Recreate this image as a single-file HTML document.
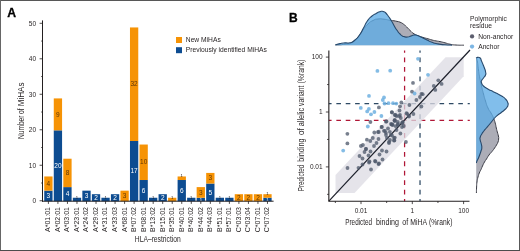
<!DOCTYPE html>
<html lang="en">
<head>
<meta charset="utf-8">
<title>MiHA figure</title>
<style>
html,body{margin:0;padding:0;background:#fff;}
body{width:520px;height:251px;overflow:hidden;}
svg{display:block;font-family:"Liberation Sans",sans-serif;}
</style>
</head>
<body>
<svg width="520" height="251" viewBox="0 0 520 251">
<rect width="520" height="251" fill="#fff"/>
<g id="panelA">
<rect x="44.25" y="190.66" width="8.3" height="10.64" fill="#0d4c91"/>
<rect x="44.25" y="176.46" width="8.3" height="14.19" fill="#f69305"/>
<rect x="53.77" y="130.34" width="8.3" height="70.96" fill="#0d4c91"/>
<rect x="53.77" y="98.41" width="8.3" height="31.93" fill="#f69305"/>
<rect x="63.30" y="187.11" width="8.3" height="14.19" fill="#0d4c91"/>
<rect x="63.30" y="158.72" width="8.3" height="28.38" fill="#f69305"/>
<rect x="72.82" y="197.75" width="8.3" height="3.55" fill="#0d4c91"/>
<rect x="82.35" y="190.66" width="8.3" height="10.64" fill="#0d4c91"/>
<rect x="91.88" y="194.20" width="8.3" height="7.10" fill="#0d4c91"/>
<rect x="101.40" y="197.75" width="8.3" height="3.55" fill="#0d4c91"/>
<rect x="110.92" y="194.20" width="8.3" height="7.10" fill="#0d4c91"/>
<rect x="120.45" y="190.66" width="8.3" height="10.64" fill="#f69305"/>
<rect x="129.97" y="140.98" width="8.3" height="60.32" fill="#0d4c91"/>
<rect x="129.97" y="27.45" width="8.3" height="113.54" fill="#f69305"/>
<rect x="139.50" y="180.01" width="8.3" height="21.29" fill="#0d4c91"/>
<rect x="139.50" y="144.53" width="8.3" height="35.48" fill="#f69305"/>
<rect x="149.03" y="197.75" width="8.3" height="3.55" fill="#0d4c91"/>
<rect x="158.55" y="194.20" width="8.3" height="7.10" fill="#0d4c91"/>
<rect x="168.07" y="197.75" width="8.3" height="3.55" fill="#f69305"/>
<rect x="177.60" y="180.01" width="8.3" height="21.29" fill="#0d4c91"/>
<rect x="177.60" y="176.46" width="8.3" height="3.55" fill="#f69305"/>
<rect x="187.12" y="197.75" width="8.3" height="3.55" fill="#0d4c91"/>
<rect x="196.65" y="197.75" width="8.3" height="3.55" fill="#0d4c91"/>
<rect x="196.65" y="187.11" width="8.3" height="10.64" fill="#f69305"/>
<rect x="206.18" y="183.56" width="8.3" height="17.74" fill="#0d4c91"/>
<rect x="206.18" y="172.92" width="8.3" height="10.64" fill="#f69305"/>
<rect x="215.70" y="197.75" width="8.3" height="3.55" fill="#0d4c91"/>
<rect x="225.22" y="197.75" width="8.3" height="3.55" fill="#0d4c91"/>
<rect x="234.75" y="194.20" width="8.3" height="7.10" fill="#f69305"/>
<rect x="244.28" y="194.20" width="8.3" height="7.10" fill="#f69305"/>
<rect x="253.80" y="194.20" width="8.3" height="7.10" fill="#f69305"/>
<rect x="263.33" y="197.75" width="8.3" height="3.55" fill="#0d4c91"/>
<rect x="263.33" y="194.20" width="8.3" height="3.55" fill="#f69305"/>
<g font-size="6.5" text-anchor="middle">
<text x="48.40" y="198.08" fill="#fff">3</text>
<text x="48.40" y="185.76" fill="#5e3608">4</text>
<text x="57.92" y="167.92" fill="#fff">20</text>
<text x="57.92" y="116.57" fill="#5e3608">9</text>
<text x="67.45" y="196.30" fill="#fff">4</text>
<text x="67.45" y="175.12" fill="#5e3608">8</text>
<text x="76.97" y="198.75" fill="#231f20" font-size="4.2">1</text>
<text x="86.50" y="198.08" fill="#fff">3</text>
<text x="96.03" y="199.85" fill="#fff">2</text>
<text x="105.55" y="198.75" fill="#231f20" font-size="4.2">1</text>
<text x="115.07" y="199.85" fill="#fff">2</text>
<text x="124.60" y="198.18" fill="#5e3608">3</text>
<text x="134.12" y="173.24" fill="#fff">17</text>
<text x="134.12" y="86.42" fill="#5e3608">32</text>
<text x="143.65" y="192.76" fill="#fff">6</text>
<text x="143.65" y="164.47" fill="#5e3608">10</text>
<text x="153.18" y="198.75" fill="#231f20" font-size="4.2">1</text>
<text x="162.70" y="199.85" fill="#fff">2</text>
<text x="172.22" y="198.75" fill="#231f20" font-size="4.2">1</text>
<text x="181.75" y="192.76" fill="#fff">6</text>
<text x="181.75" y="177.46" fill="#231f20" font-size="4.2">1</text>
<text x="191.28" y="198.75" fill="#231f20" font-size="4.2">1</text>
<text x="200.80" y="201.03" fill="#fff" font-size="4.2">1</text>
<text x="200.80" y="194.63" fill="#5e3608">3</text>
<text x="210.33" y="194.53" fill="#fff">5</text>
<text x="210.33" y="180.44" fill="#5e3608">3</text>
<text x="219.85" y="198.75" fill="#231f20" font-size="4.2">1</text>
<text x="229.38" y="198.75" fill="#231f20" font-size="4.2">1</text>
<text x="238.90" y="199.95" fill="#5e3608">2</text>
<text x="248.43" y="199.95" fill="#5e3608">2</text>
<text x="257.95" y="199.95" fill="#5e3608">2</text>
<text x="267.48" y="201.03" fill="#fff" font-size="4.2">1</text>
<text x="267.48" y="195.20" fill="#231f20" font-size="4.2">1</text>
</g>
<path d="M42.5 20.4V201.70000000000002" stroke="#231f20" stroke-width="1" fill="none"/>
<path d="M42.0 201.20000000000002H273.6" stroke="#231f20" stroke-width="1" fill="none"/>
<path d="M39.6 200.75H42.2M41.2 183.00H42.2M39.6 165.26H42.2M41.2 147.51H42.2M39.6 129.77H42.2M41.2 112.03H42.2M39.6 94.28H42.2M41.2 76.53H42.2M39.6 58.79H42.2M41.2 41.05H42.2M39.6 23.30H42.2M48.40 201.20000000000002V203.9M57.92 201.20000000000002V203.9M67.45 201.20000000000002V203.9M76.97 201.20000000000002V203.9M86.50 201.20000000000002V203.9M96.03 201.20000000000002V203.9M105.55 201.20000000000002V203.9M115.07 201.20000000000002V203.9M124.60 201.20000000000002V203.9M134.12 201.20000000000002V203.9M143.65 201.20000000000002V203.9M153.18 201.20000000000002V203.9M162.70 201.20000000000002V203.9M172.22 201.20000000000002V203.9M181.75 201.20000000000002V203.9M191.28 201.20000000000002V203.9M200.80 201.20000000000002V203.9M210.33 201.20000000000002V203.9M219.85 201.20000000000002V203.9M229.38 201.20000000000002V203.9M238.90 201.20000000000002V203.9M248.43 201.20000000000002V203.9M257.95 201.20000000000002V203.9M267.48 201.20000000000002V203.9" stroke="#231f20" stroke-width="0.8" fill="none"/>
<g font-size="6.5" text-anchor="end" fill="#231f20">
<text x="36.1" y="203.05">0</text>
<text x="36.1" y="167.56">10</text>
<text x="36.1" y="132.07">20</text>
<text x="36.1" y="96.58">30</text>
<text x="36.1" y="61.09">40</text>
<text x="36.1" y="25.60">50</text>
</g>
<g font-size="7" text-anchor="end" fill="#231f20">
<text transform="translate(50.30 207) rotate(-90)">A*01:01</text>
<text transform="translate(59.82 207) rotate(-90)">A*02:01</text>
<text transform="translate(69.35 207) rotate(-90)">A*03:01</text>
<text transform="translate(78.88 207) rotate(-90)">A*23:01</text>
<text transform="translate(88.40 207) rotate(-90)">A*24:02</text>
<text transform="translate(97.93 207) rotate(-90)">A*29:02</text>
<text transform="translate(107.45 207) rotate(-90)">A*31:01</text>
<text transform="translate(116.97 207) rotate(-90)">A*33:03</text>
<text transform="translate(126.50 207) rotate(-90)">A*68:01</text>
<text transform="translate(136.03 207) rotate(-90)">B*07:02</text>
<text transform="translate(145.55 207) rotate(-90)">B*08:01</text>
<text transform="translate(155.08 207) rotate(-90)">B*13:02</text>
<text transform="translate(164.60 207) rotate(-90)">B*15:01</text>
<text transform="translate(174.12 207) rotate(-90)">B*35:01</text>
<text transform="translate(183.65 207) rotate(-90)">B*40:01</text>
<text transform="translate(193.18 207) rotate(-90)">B*40:02</text>
<text transform="translate(202.70 207) rotate(-90)">B*44:02</text>
<text transform="translate(212.23 207) rotate(-90)">B*44:03</text>
<text transform="translate(221.75 207) rotate(-90)">B*51:01</text>
<text transform="translate(231.28 207) rotate(-90)">B*57:01</text>
<text transform="translate(240.80 207) rotate(-90)">C*03:03</text>
<text transform="translate(250.33 207) rotate(-90)">C*03:04</text>
<text transform="translate(259.85 207) rotate(-90)">C*07:01</text>
<text transform="translate(269.38 207) rotate(-90)">C*07:02</text>
</g>
<text transform="translate(23.8 139.00) rotate(-90)" font-size="8.8" fill="#231f20" textLength="23.50" lengthAdjust="spacingAndGlyphs">Number</text><text transform="translate(23.8 113.90) rotate(-90)" font-size="8.8" fill="#231f20" textLength="5.50" lengthAdjust="spacingAndGlyphs">of</text><text transform="translate(23.8 106.20) rotate(-90)" font-size="8.8" fill="#231f20" textLength="23.60" lengthAdjust="spacingAndGlyphs">MiHAs</text>
<text transform="translate(157.8 241.9) scale(0.775 1)" font-size="8.7" text-anchor="middle" fill="#231f20">HLA–restriction</text>
<rect x="176" y="37" width="6" height="6" fill="#f69305"/>
<rect x="176" y="47.2" width="6" height="6" fill="#0d4c91"/>
<text x="185.8" y="42" font-size="6.7" fill="#231f20">New MiHAs</text>
<text x="185.8" y="52.2" font-size="6.7" fill="#231f20">Previously identified MiHAs</text>
<text x="7.3" y="17.1" font-size="12.2" font-weight="bold" fill="#000" stroke="#000" stroke-width="0.3">A</text>
</g>
<g id="panelB">
<g fill="none" stroke-width="1.25">
<path d="M404.58 201.2V50.4" stroke="#b01636" stroke-dasharray="4.8 4.64" stroke-dashoffset="2.7"/>
<path d="M420.02 201.2V50.4" stroke="#2e4a64" stroke-dasharray="4.8 4.64" stroke-dashoffset="2.7"/>
<path d="M328.85 120.26H469.8" stroke="#b01636" stroke-dasharray="4.6 4.78" stroke-dashoffset="1.88"/>
<path d="M328.85 103.74H469.8" stroke="#2e4a64" stroke-dasharray="4.6 4.78" stroke-dashoffset="1.88"/>
</g>
<polygon points="335.50,174.97 445.55,57.20 463.70,57.20 463.70,76.21 354.57,193.00 335.50,193.00" fill="#dddce3" fill-opacity="0.76"/>
<path d="M328.85 201.2L470 50" stroke="#1c1f2a" stroke-width="1.2" fill="none"/>
<g fill="#4d586b" fill-opacity="0.76">
<circle cx="413" cy="82.9" r="1.9"/>
<circle cx="438.3" cy="80.3" r="1.9"/>
<circle cx="441.6" cy="83.9" r="1.9"/>
<circle cx="433.8" cy="85.9" r="1.9"/>
<circle cx="435.3" cy="89.9" r="1.9"/>
<circle cx="412" cy="91.7" r="1.9"/>
<circle cx="421.4" cy="93.9" r="1.9"/>
<circle cx="416.4" cy="100" r="1.9"/>
<circle cx="419.9" cy="97" r="1.9"/>
<circle cx="401.3" cy="102.5" r="1.9"/>
<circle cx="400" cy="106.3" r="1.9"/>
<circle cx="399.5" cy="110.5" r="1.9"/>
<circle cx="409.4" cy="105" r="1.9"/>
<circle cx="421.4" cy="106.5" r="1.9"/>
<circle cx="406.5" cy="113.2" r="1.9"/>
<circle cx="413.4" cy="114" r="1.9"/>
<circle cx="400" cy="115" r="1.9"/>
<circle cx="396.5" cy="116" r="1.9"/>
<circle cx="409" cy="116.5" r="1.9"/>
<circle cx="378.9" cy="107.4" r="1.9"/>
<circle cx="391.8" cy="112.1" r="1.9"/>
<circle cx="394.8" cy="115" r="1.9"/>
<circle cx="394.8" cy="120" r="1.9"/>
<circle cx="391.8" cy="124.4" r="1.9"/>
<circle cx="397.8" cy="125" r="1.9"/>
<circle cx="370.4" cy="122" r="1.9"/>
<circle cx="385.9" cy="121.5" r="1.9"/>
<circle cx="381.9" cy="126.9" r="1.9"/>
<circle cx="386.5" cy="121.5" r="1.9"/>
<circle cx="392" cy="124.5" r="1.9"/>
<circle cx="381.5" cy="127" r="1.9"/>
<circle cx="398" cy="124" r="1.9"/>
<circle cx="402.4" cy="123" r="1.9"/>
<circle cx="402" cy="127" r="1.9"/>
<circle cx="378" cy="132" r="1.9"/>
<circle cx="385" cy="131" r="1.9"/>
<circle cx="386" cy="135" r="1.9"/>
<circle cx="400.4" cy="133.5" r="1.9"/>
<circle cx="394" cy="138" r="1.9"/>
<circle cx="394.4" cy="140.4" r="1.9"/>
<circle cx="378.5" cy="139" r="1.9"/>
<circle cx="390" cy="140" r="1.9"/>
<circle cx="389" cy="143" r="1.9"/>
<circle cx="405.9" cy="142" r="1.9"/>
<circle cx="347.4" cy="133.8" r="1.9"/>
<circle cx="347.4" cy="143.4" r="1.9"/>
<circle cx="374.3" cy="132.5" r="1.9"/>
<circle cx="378.8" cy="132" r="1.9"/>
<circle cx="372.8" cy="138" r="1.9"/>
<circle cx="366.9" cy="139.7" r="1.9"/>
<circle cx="370.3" cy="141" r="1.9"/>
<circle cx="360.9" cy="146" r="1.9"/>
<circle cx="362.9" cy="145" r="1.9"/>
<circle cx="365.9" cy="149" r="1.9"/>
<circle cx="366" cy="149" r="1.9"/>
<circle cx="364.5" cy="152" r="1.9"/>
<circle cx="370.5" cy="151.5" r="1.9"/>
<circle cx="374" cy="146" r="1.9"/>
<circle cx="376.5" cy="143" r="1.9"/>
<circle cx="368.5" cy="155.5" r="1.9"/>
<circle cx="359.5" cy="156" r="1.9"/>
<circle cx="362.5" cy="158.5" r="1.9"/>
<circle cx="382" cy="150.5" r="1.9"/>
<circle cx="386.5" cy="151.5" r="1.9"/>
<circle cx="379.5" cy="154.5" r="1.9"/>
<circle cx="382.5" cy="159.5" r="1.9"/>
<circle cx="375" cy="161" r="1.9"/>
<circle cx="379" cy="163.5" r="1.9"/>
<circle cx="369" cy="162.5" r="1.9"/>
<circle cx="389" cy="142" r="1.9"/>
<circle cx="394" cy="140.5" r="1.9"/>
<circle cx="347.5" cy="168" r="1.9"/>
<circle cx="358.5" cy="167.8" r="1.9"/>
<circle cx="369.5" cy="161.5" r="1.9"/>
<circle cx="371" cy="169.5" r="1.9"/>
<circle cx="375.5" cy="161.5" r="1.9"/>
<circle cx="378.5" cy="164" r="1.9"/>
<circle cx="362.5" cy="164.5" r="1.9"/>
<circle cx="394.5" cy="120.5" r="1.9"/>
<circle cx="391" cy="124" r="1.9"/>
<circle cx="402" cy="123" r="1.9"/>
<circle cx="392" cy="112.5" r="1.9"/>
<circle cx="395.5" cy="115" r="1.9"/>
<circle cx="407.2" cy="113.9" r="1.9"/>
<circle cx="408.8" cy="115.8" r="1.9"/>
<circle cx="399.2" cy="116.2" r="1.9"/>
<circle cx="400.8" cy="118" r="1.9"/>
<circle cx="394.8" cy="121" r="1.9"/>
<circle cx="397.8" cy="122" r="1.9"/>
<circle cx="402.8" cy="122" r="1.9"/>
<circle cx="403.8" cy="126" r="1.9"/>
<circle cx="392.8" cy="125" r="1.9"/>
<circle cx="395.8" cy="126.2" r="1.9"/>
<circle cx="383.9" cy="130.8" r="1.9"/>
<circle cx="385.9" cy="132.8" r="1.9"/>
<circle cx="389.9" cy="131.8" r="1.9"/>
<circle cx="390.9" cy="134.8" r="1.9"/>
<circle cx="386.9" cy="137.8" r="1.9"/>
<circle cx="394.8" cy="137.6" r="1.9"/>
<circle cx="422.7" cy="94.2" r="1.9"/>
<circle cx="388" cy="128.5" r="1.9"/>
<circle cx="396.5" cy="130" r="1.9"/>
<circle cx="392" cy="135.5" r="1.9"/>
</g>
<g fill="#6fb0e0" fill-opacity="0.85">
<circle cx="377.4" cy="70.9" r="1.9"/>
<circle cx="390.2" cy="70.7" r="1.9"/>
<circle cx="418" cy="58.8" r="1.9"/>
<circle cx="428" cy="74.8" r="1.9"/>
<circle cx="369" cy="95.9" r="1.9"/>
<circle cx="384" cy="97.4" r="1.9"/>
<circle cx="382.8" cy="100" r="1.9"/>
<circle cx="384.5" cy="103.5" r="1.9"/>
<circle cx="388.5" cy="103.2" r="1.9"/>
<circle cx="393" cy="103.2" r="1.9"/>
<circle cx="396.3" cy="103.6" r="1.9"/>
<circle cx="360.8" cy="107.9" r="1.9"/>
<circle cx="368.9" cy="108.9" r="1.9"/>
<circle cx="367.2" cy="111.4" r="1.9"/>
<circle cx="374.4" cy="112" r="1.9"/>
<circle cx="371" cy="114.3" r="1.9"/>
<circle cx="381.4" cy="116" r="1.9"/>
<circle cx="367.8" cy="126.5" r="1.9"/>
<circle cx="343.2" cy="150.6" r="1.9"/>
<circle cx="414.6" cy="93.5" r="1.9"/>
</g>
<path d="M328.85 50.4V201.2H469.5" stroke="#231f20" stroke-width="1.1" fill="none"/>
<path d="M335.35 201.2V203.0M327.05 194.35H328.85M361.00 201.2V204.1M325.85 166.90H328.85M386.65 201.2V203.0M327.05 139.45H328.85M412.30 201.2V204.1M325.85 112.00H328.85M437.95 201.2V203.0M327.05 84.55H328.85M463.60 201.2V204.1M325.85 57.10H328.85" stroke="#231f20" stroke-width="0.8" fill="none"/>
<g font-size="6.5" fill="#231f20">
<text x="361.00" y="213" text-anchor="middle">0.01</text>
<text x="322.6" y="168.70" text-anchor="end">0.01</text>
<text x="412.30" y="213" text-anchor="middle">1</text>
<text x="322.6" y="113.80" text-anchor="end">1</text>
<text x="463.60" y="213" text-anchor="middle">100</text>
<text x="322.6" y="58.90" text-anchor="end">100</text>
</g>
<text x="345.30" y="225" font-size="8.7" fill="#231f20" textLength="26.70" lengthAdjust="spacingAndGlyphs">Predicted</text><text x="376.00" y="225" font-size="8.7" fill="#231f20" textLength="22.90" lengthAdjust="spacingAndGlyphs">binding</text><text x="402.30" y="225" font-size="8.7" fill="#231f20" textLength="5.90" lengthAdjust="spacingAndGlyphs">of</text><text x="410.20" y="225" font-size="8.7" fill="#231f20" textLength="16.80" lengthAdjust="spacingAndGlyphs">MiHA</text><text x="428.90" y="225" font-size="8.7" fill="#231f20" textLength="23.50" lengthAdjust="spacingAndGlyphs">(%rank)</text>
<text transform="translate(303.7 191.20) rotate(-90)" font-size="8.7" fill="#231f20" textLength="26.40" lengthAdjust="spacingAndGlyphs">Predicted</text><text transform="translate(303.7 161.80) rotate(-90)" font-size="8.7" fill="#231f20" textLength="23.30" lengthAdjust="spacingAndGlyphs">binding</text><text transform="translate(303.7 134.90) rotate(-90)" font-size="8.7" fill="#231f20" textLength="6.70" lengthAdjust="spacingAndGlyphs">of</text><text transform="translate(303.7 126.30) rotate(-90)" font-size="8.7" fill="#231f20" textLength="18.40" lengthAdjust="spacingAndGlyphs">allelic</text><text transform="translate(303.7 105.90) rotate(-90)" font-size="8.7" fill="#231f20" textLength="20.20" lengthAdjust="spacingAndGlyphs">variant</text><text transform="translate(303.7 83.50) rotate(-90)" font-size="8.7" fill="#231f20" textLength="24.00" lengthAdjust="spacingAndGlyphs">(%rank)</text>
<text x="289" y="21.6" font-size="12" font-weight="bold" fill="#000" stroke="#000" stroke-width="0.3">B</text>
<g font-size="6.7" fill="#231f20">
<text x="470" y="20.6">Polymorphic</text>
<text x="470" y="28.4">residue</text>
<text x="478.2" y="38.7">Non-anchor</text>
<text x="478.2" y="48.9">Anchor</text>
</g>
<circle cx="472.05" cy="36.4" r="2.15" fill="#5c5e6e"/>
<circle cx="472.05" cy="46.6" r="2.15" fill="#7db6e4"/>
<path d="M335.40 44.90C338.60 44.67 339.47 45.00 345.00 44.20C350.53 43.40 347.67 44.90 352.00 42.50C356.33 40.10 354.33 41.17 358.00 37.00C361.67 32.83 359.67 34.33 363.00 30.00C366.33 25.67 364.67 27.17 368.00 24.00C371.33 20.83 369.67 22.17 373.00 20.50C376.33 18.83 374.33 19.43 378.00 19.00C381.67 18.57 380.00 18.77 384.00 19.20C388.00 19.63 386.67 19.77 390.00 20.30C393.33 20.83 391.67 20.43 394.00 20.80C396.33 21.17 395.00 20.93 397.00 21.40C399.00 21.87 397.90 21.33 400.00 22.20C402.10 23.07 401.13 22.47 403.30 24.00C405.47 25.53 404.27 24.67 406.50 26.80C408.73 28.93 407.50 28.07 410.00 30.40C412.50 32.73 411.33 32.00 414.00 33.80C416.67 35.60 415.00 34.60 418.00 35.80C421.00 37.00 419.67 36.40 423.00 37.40C426.33 38.40 425.00 37.93 428.00 38.80C431.00 39.67 429.33 39.30 432.00 40.00C434.67 40.70 433.33 40.37 436.00 40.90C438.67 41.43 437.00 40.97 440.00 41.60C443.00 42.23 441.67 41.93 445.00 42.80C448.33 43.67 446.33 43.47 450.00 44.20C453.67 44.93 451.33 44.67 456.00 45.00C460.67 45.33 461.33 45.13 464.00 45.20L464 45.2L335.4 45.2Z" fill="#acadb7"/>
<path d="M335.40 44.90C338.60 44.67 339.47 45.00 345.00 44.20C350.53 43.40 347.67 44.90 352.00 42.50C356.33 40.10 354.33 41.17 358.00 37.00C361.67 32.83 359.67 34.33 363.00 30.00C366.33 25.67 364.67 27.17 368.00 24.00C371.33 20.83 369.67 22.17 373.00 20.50C376.33 18.83 374.33 19.43 378.00 19.00C381.67 18.57 380.00 18.77 384.00 19.20C388.00 19.63 386.67 19.77 390.00 20.30C393.33 20.83 391.67 20.43 394.00 20.80C396.33 21.17 395.00 20.93 397.00 21.40C399.00 21.87 397.90 21.33 400.00 22.20C402.10 23.07 401.13 22.47 403.30 24.00C405.47 25.53 404.27 24.67 406.50 26.80C408.73 28.93 407.50 28.07 410.00 30.40C412.50 32.73 411.33 32.00 414.00 33.80C416.67 35.60 415.00 34.60 418.00 35.80C421.00 37.00 419.67 36.40 423.00 37.40C426.33 38.40 425.00 37.93 428.00 38.80C431.00 39.67 429.33 39.30 432.00 40.00C434.67 40.70 433.33 40.37 436.00 40.90C438.67 41.43 437.00 40.97 440.00 41.60C443.00 42.23 441.67 41.93 445.00 42.80C448.33 43.67 446.33 43.47 450.00 44.20C453.67 44.93 451.33 44.67 456.00 45.00C460.67 45.33 461.33 45.13 464.00 45.20" fill="none" stroke="#3c3d47" stroke-width="1"/>
<path d="M335.40 44.80C336.93 44.40 336.80 44.23 340.00 43.60C343.20 42.97 341.67 43.17 345.00 42.90C348.33 42.63 346.67 43.77 350.00 42.80C353.33 41.83 351.83 42.60 355.00 40.00C358.17 37.40 356.67 39.00 359.50 35.00C362.33 31.00 360.83 32.77 363.50 28.00C366.17 23.23 364.67 24.70 367.50 20.70C370.33 16.70 369.10 18.43 372.00 16.00C374.90 13.57 373.70 14.80 376.20 13.40C378.70 12.00 377.63 12.50 379.50 11.80C381.37 11.10 380.30 11.30 381.80 11.30C383.30 11.30 382.67 11.23 384.00 11.80C385.33 12.37 384.30 11.43 385.80 13.00C387.30 14.57 386.63 13.93 388.50 16.50C390.37 19.07 389.57 17.70 391.40 20.70C393.23 23.70 392.13 22.30 394.00 25.50C395.87 28.70 395.00 27.47 397.00 30.30C399.00 33.13 397.90 31.97 400.00 34.00C402.10 36.03 400.80 35.40 403.30 36.40C405.80 37.40 404.93 37.13 407.50 37.00C410.07 36.87 408.83 36.67 411.00 36.00C413.17 35.33 411.83 35.17 414.00 35.00C416.17 34.83 414.83 34.67 417.50 35.50C420.17 36.33 418.83 36.00 422.00 37.50C425.17 39.00 423.67 38.40 427.00 40.00C430.33 41.60 428.33 41.00 432.00 42.30C435.67 43.60 433.67 43.07 438.00 43.90C442.33 44.73 440.33 44.40 445.00 44.80C449.67 45.20 449.67 45.00 452.00 45.10L452 45.2L335.4 45.2Z" fill="#5eace6" fill-opacity="0.78"/>
<path d="M335.40 44.80C336.93 44.40 336.80 44.23 340.00 43.60C343.20 42.97 341.67 43.17 345.00 42.90C348.33 42.63 346.67 43.77 350.00 42.80C353.33 41.83 351.83 42.60 355.00 40.00C358.17 37.40 356.67 39.00 359.50 35.00C362.33 31.00 360.83 32.77 363.50 28.00C366.17 23.23 364.67 24.70 367.50 20.70C370.33 16.70 369.10 18.43 372.00 16.00C374.90 13.57 373.70 14.80 376.20 13.40C378.70 12.00 377.63 12.50 379.50 11.80C381.37 11.10 380.30 11.30 381.80 11.30C383.30 11.30 382.67 11.23 384.00 11.80C385.33 12.37 384.30 11.43 385.80 13.00C387.30 14.57 386.63 13.93 388.50 16.50C390.37 19.07 389.57 17.70 391.40 20.70C393.23 23.70 392.13 22.30 394.00 25.50C395.87 28.70 395.00 27.47 397.00 30.30C399.00 33.13 397.90 31.97 400.00 34.00C402.10 36.03 400.80 35.40 403.30 36.40C405.80 37.40 404.93 37.13 407.50 37.00C410.07 36.87 408.83 36.67 411.00 36.00C413.17 35.33 411.83 35.17 414.00 35.00C416.17 34.83 414.83 34.67 417.50 35.50C420.17 36.33 418.83 36.00 422.00 37.50C425.17 39.00 423.67 38.40 427.00 40.00C430.33 41.60 428.33 41.00 432.00 42.30C435.67 43.60 433.67 43.07 438.00 43.90C442.33 44.73 440.33 44.40 445.00 44.80C449.67 45.20 449.67 45.00 452.00 45.10" fill="none" stroke="#27496c" stroke-width="1.1"/>
<path d="M476.40 57.60C476.77 59.07 476.80 57.87 477.50 62.00C478.20 66.13 477.73 64.67 478.50 70.00C479.27 75.33 478.80 72.67 479.80 78.00C480.80 83.33 480.27 80.67 481.50 86.00C482.73 91.33 482.17 89.00 483.50 94.00C484.83 99.00 484.00 96.33 485.50 101.00C487.00 105.67 486.17 104.00 488.00 108.00C489.83 112.00 489.17 109.67 491.00 113.00C492.83 116.33 492.10 114.67 493.50 118.00C494.90 121.33 494.27 119.67 495.20 123.00C496.13 126.33 495.60 125.00 496.30 128.00C497.00 131.00 496.60 129.33 497.30 132.00C498.00 134.67 497.97 133.67 498.40 136.00C498.83 138.33 498.73 137.00 498.60 139.00C498.47 141.00 498.70 140.00 498.00 142.00C497.30 144.00 497.63 143.00 496.50 145.00C495.37 147.00 496.10 145.83 494.60 148.00C493.10 150.17 493.87 149.17 492.00 151.50C490.13 153.83 490.83 152.50 489.00 155.00C487.17 157.50 488.00 156.67 486.50 159.00C485.00 161.33 485.83 159.67 484.50 162.00C483.17 164.33 483.67 163.50 482.50 166.00C481.33 168.50 482.07 167.17 481.00 169.50C479.93 171.83 480.30 170.50 479.30 173.00C478.30 175.50 478.77 174.00 478.00 177.00C477.23 180.00 477.47 178.67 477.00 182.00C476.53 185.33 476.80 183.33 476.60 187.00C476.40 190.67 476.47 191.00 476.40 193.00L476.2 193L476.2 57.6Z" fill="#acadb7"/>
<path d="M476.40 57.60C476.77 59.07 476.80 57.87 477.50 62.00C478.20 66.13 477.73 64.67 478.50 70.00C479.27 75.33 478.80 72.67 479.80 78.00C480.80 83.33 480.27 80.67 481.50 86.00C482.73 91.33 482.17 89.00 483.50 94.00C484.83 99.00 484.00 96.33 485.50 101.00C487.00 105.67 486.17 104.00 488.00 108.00C489.83 112.00 489.17 109.67 491.00 113.00C492.83 116.33 492.10 114.67 493.50 118.00C494.90 121.33 494.27 119.67 495.20 123.00C496.13 126.33 495.60 125.00 496.30 128.00C497.00 131.00 496.60 129.33 497.30 132.00C498.00 134.67 497.97 133.67 498.40 136.00C498.83 138.33 498.73 137.00 498.60 139.00C498.47 141.00 498.70 140.00 498.00 142.00C497.30 144.00 497.63 143.00 496.50 145.00C495.37 147.00 496.10 145.83 494.60 148.00C493.10 150.17 493.87 149.17 492.00 151.50C490.13 153.83 490.83 152.50 489.00 155.00C487.17 157.50 488.00 156.67 486.50 159.00C485.00 161.33 485.83 159.67 484.50 162.00C483.17 164.33 483.67 163.50 482.50 166.00C481.33 168.50 482.07 167.17 481.00 169.50C479.93 171.83 480.30 170.50 479.30 173.00C478.30 175.50 478.77 174.00 478.00 177.00C477.23 180.00 477.47 178.67 477.00 182.00C476.53 185.33 476.80 183.33 476.60 187.00C476.40 190.67 476.47 191.00 476.40 193.00" fill="none" stroke="#3c3d47" stroke-width="1"/>
<path d="M476.30 57.60C477.47 57.63 478.07 56.57 479.80 57.70C481.53 58.83 480.37 58.57 481.50 61.00C482.63 63.43 482.23 62.67 483.20 65.00C484.17 67.33 483.60 65.67 484.40 68.00C485.20 70.33 485.23 69.67 485.60 72.00C485.97 74.33 486.20 73.00 485.50 75.00C484.80 77.00 484.80 76.13 483.50 78.00C482.20 79.87 482.23 78.93 481.60 80.60C480.97 82.27 480.97 81.20 481.60 83.00C482.23 84.80 481.70 84.17 483.50 86.00C485.30 87.83 484.50 86.97 487.00 88.50C489.50 90.03 488.00 89.10 491.00 90.60C494.00 92.10 492.47 91.20 496.00 93.00C499.53 94.80 498.43 94.00 501.60 96.00C504.77 98.00 503.47 96.83 505.50 99.00C507.53 101.17 506.87 100.50 507.70 102.50C508.53 104.50 508.30 103.33 508.00 105.00C507.70 106.67 508.00 105.83 506.80 107.50C505.60 109.17 506.33 108.27 504.40 110.00C502.47 111.73 503.33 110.90 501.00 112.70C498.67 114.50 499.53 113.63 497.40 115.40C495.27 117.17 496.33 116.13 494.60 118.00C492.87 119.87 493.93 118.83 492.20 121.00C490.47 123.17 491.33 122.17 489.40 124.50C487.47 126.83 488.23 125.83 486.40 128.00C484.57 130.17 485.43 129.00 483.90 131.00C482.37 133.00 483.00 132.00 481.80 134.00C480.60 136.00 480.83 135.00 480.30 137.00C479.77 139.00 479.87 137.67 480.20 140.00C480.53 142.33 480.77 141.33 481.30 144.00C481.83 146.67 481.90 145.67 481.80 148.00C481.70 150.33 481.60 149.00 481.00 151.00C480.40 153.00 480.83 151.67 480.00 154.00C479.17 156.33 479.50 155.67 478.50 158.00C477.50 160.33 477.70 159.33 477.00 161.00C476.30 162.67 476.60 162.33 476.40 163.00L476.2 163L476.2 57.6Z" fill="#5eace6" fill-opacity="0.78"/>
<path d="M476.30 57.60C477.47 57.63 478.07 56.57 479.80 57.70C481.53 58.83 480.37 58.57 481.50 61.00C482.63 63.43 482.23 62.67 483.20 65.00C484.17 67.33 483.60 65.67 484.40 68.00C485.20 70.33 485.23 69.67 485.60 72.00C485.97 74.33 486.20 73.00 485.50 75.00C484.80 77.00 484.80 76.13 483.50 78.00C482.20 79.87 482.23 78.93 481.60 80.60C480.97 82.27 480.97 81.20 481.60 83.00C482.23 84.80 481.70 84.17 483.50 86.00C485.30 87.83 484.50 86.97 487.00 88.50C489.50 90.03 488.00 89.10 491.00 90.60C494.00 92.10 492.47 91.20 496.00 93.00C499.53 94.80 498.43 94.00 501.60 96.00C504.77 98.00 503.47 96.83 505.50 99.00C507.53 101.17 506.87 100.50 507.70 102.50C508.53 104.50 508.30 103.33 508.00 105.00C507.70 106.67 508.00 105.83 506.80 107.50C505.60 109.17 506.33 108.27 504.40 110.00C502.47 111.73 503.33 110.90 501.00 112.70C498.67 114.50 499.53 113.63 497.40 115.40C495.27 117.17 496.33 116.13 494.60 118.00C492.87 119.87 493.93 118.83 492.20 121.00C490.47 123.17 491.33 122.17 489.40 124.50C487.47 126.83 488.23 125.83 486.40 128.00C484.57 130.17 485.43 129.00 483.90 131.00C482.37 133.00 483.00 132.00 481.80 134.00C480.60 136.00 480.83 135.00 480.30 137.00C479.77 139.00 479.87 137.67 480.20 140.00C480.53 142.33 480.77 141.33 481.30 144.00C481.83 146.67 481.90 145.67 481.80 148.00C481.70 150.33 481.60 149.00 481.00 151.00C480.40 153.00 480.83 151.67 480.00 154.00C479.17 156.33 479.50 155.67 478.50 158.00C477.50 160.33 477.70 159.33 477.00 161.00C476.30 162.67 476.60 162.33 476.40 163.00" fill="none" stroke="#27496c" stroke-width="1.1"/>
</g>
<rect x="0" y="0" width="520" height="1" fill="#575757"/><rect x="0" y="0" width="1" height="251" fill="#666"/><rect x="519" y="0" width="1" height="251" fill="#585858"/><rect x="0" y="250" width="520" height="1" fill="#4c4c4c"/>
</svg>
</body>
</html>
